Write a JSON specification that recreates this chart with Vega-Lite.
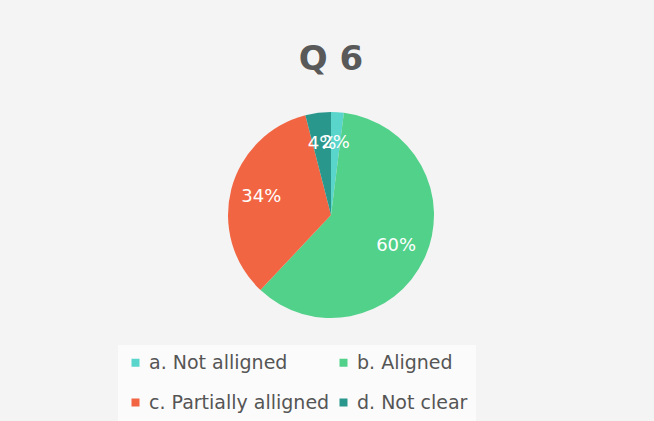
{
  "$schema": "https://vega.github.io/schema/vega-lite/v6.json",
  "autosize": {"type": "none"},
  "width": 206,
  "height": 206,
  "padding": {"top": 112, "left": 228, "right": 220, "bottom": 103},
  "background": "#f4f4f4",
  "view": {"stroke": null},
  "title": {
    "text": "Q 6",
    "fontSize": 34,
    "font": "DejaVu Sans",
    "fontWeight": "bold",
    "color": "#595959",
    "anchor": "middle",
    "offset": 35
  },
  "data": {
    "values": [
      {"category": "a. Not alligned", "value": 2, "label": "2%"},
      {"category": "b. Aligned", "value": 60, "label": "60%"},
      {"category": "c. Partially alligned", "value": 34, "label": "34%"},
      {"category": "d. Not clear", "value": 4, "label": "4%"}
    ]
  },
  "encoding": {
    "theta": {"field": "value", "type": "quantitative", "stack": true},
    "order": {"field": "category", "type": "nominal"},
    "color": {
      "field": "category",
      "type": "nominal",
      "scale": {
        "domain": ["a. Not alligned", "b. Aligned", "c. Partially alligned", "d. Not clear"],
        "range": ["#5ad5cc", "#52d18a", "#f26542", "#2a978d"]
      },
      "legend": {
        "title": null,
        "orient": "none",
        "direction": "horizontal",
        "legendX": -110,
        "legendY": 233,
        "columns": 2,
        "columnPadding": 4,
        "rowPadding": 20,
        "symbolType": "square",
        "symbolSize": 64,
        "symbolStrokeWidth": 0,
        "labelFont": "DejaVu Sans",
        "labelFontSize": 19,
        "labelColor": "#555555",
        "labelLimit": 400,
        "padding": 8,
        "fillColor": "#fbfbfb"
      }
    }
  },
  "layer": [
    {"mark": {"type": "arc", "stroke": null}},
    {
      "mark": {"type": "text", "radius": 72, "fontSize": 18, "font": "DejaVu Sans", "fill": "white"},
      "encoding": {"text": {"field": "label"}, "color": {"value": "white"}}
    }
  ]
}
